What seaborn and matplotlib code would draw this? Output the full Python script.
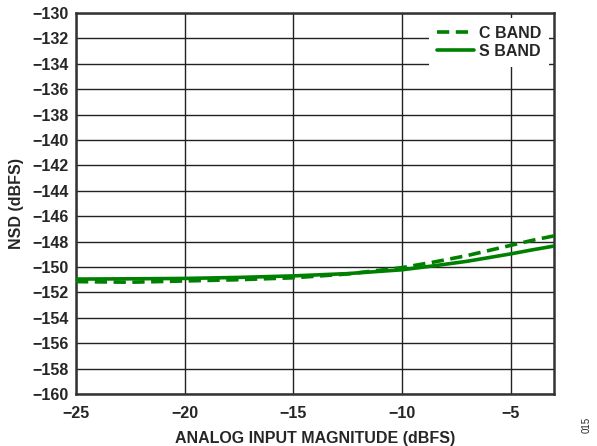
import matplotlib
matplotlib.use("Agg")
import matplotlib.pyplot as plt
import seaborn as sns
import pandas as pd
import numpy as np

x_vals = [-25, -22.5, -20, -17.5, -15, -12.5, -10, -8.5, -7, -5, -4, -3]
c_band = [-151.15, -151.2, -151.1, -151.0, -150.85, -150.55, -150.05, -149.6, -149.1, -148.3, -147.9, -147.55]
s_band = [-150.95, -150.93, -150.9, -150.82, -150.7, -150.52, -150.22, -149.9, -149.55, -148.97, -148.65, -148.35]

sns.set_style("white")
plt.rcParams['font.family'] = ['Liberation Sans', 'DejaVu Sans']
plt.rcParams['font.weight'] = 'bold'

df = pd.DataFrame({
    "x": x_vals * 2,
    "y": c_band + s_band,
    "band": ["C BAND"] * len(x_vals) + ["S BAND"] * len(x_vals),
})

fig = plt.figure(figsize=(5.97, 4.46), dpi=100)
ax = fig.add_axes([76/597, 1 - 394/446, 478/597, 381/446])

green = "#008000"
sns.lineplot(data=df, x="x", y="y", hue="band", style="band",
             palette={"C BAND": green, "S BAND": green},
             dashes={"C BAND": (3.4, 1.8), "S BAND": ""},
             linewidth=2.6, ax=ax, zorder=3)

ax.set_xlim(-25, -3)
ax.set_ylim(-160, -130)
ax.set_xticks([-25, -20, -15, -10, -5])
ax.set_yticks(np.arange(-160, -129, 2))
ax.set_xticklabels(["\u221225", "\u221220", "\u221215", "\u221210", "\u22125"])
ax.set_yticklabels([f"\u2212{abs(v)}" for v in range(-160, -129, 2)])
ax.tick_params(axis="both", labelsize=11.5, length=0)
ax.tick_params(axis="x", pad=9)
ax.tick_params(axis="y", pad=5)
for lab in ax.get_xticklabels() + ax.get_yticklabels():
    lab.set_fontweight("bold")
ax.grid(True, color="#222222", linewidth=1.0)
ax.set_axisbelow(True)
for s in ax.spines.values():
    s.set_color("#333333")
    s.set_linewidth(1.8)

ax.set_xlabel("ANALOG INPUT MAGNITUDE (dBFS)", fontsize=11.5, fontweight="bold", labelpad=7)
ax.set_ylabel("NSD (dBFS)", fontsize=11.5, fontweight="bold", labelpad=6)

leg = ax.legend(loc="upper right", fontsize=11.5, frameon=True, framealpha=1,
                edgecolor="white", handlelength=2.3, handletextpad=0.3,
                borderaxespad=0.3, labelspacing=0.2, borderpad=0.5, fancybox=False)
for t in leg.get_texts():
    t.set_fontweight("bold")
leg.get_frame().set_linewidth(0)

fig.text(587/597, 1 - 425/446, "015", rotation=90, fontsize=7, fontweight="normal",
         ha="center", va="center")

fig.savefig("out.png", dpi=100)
